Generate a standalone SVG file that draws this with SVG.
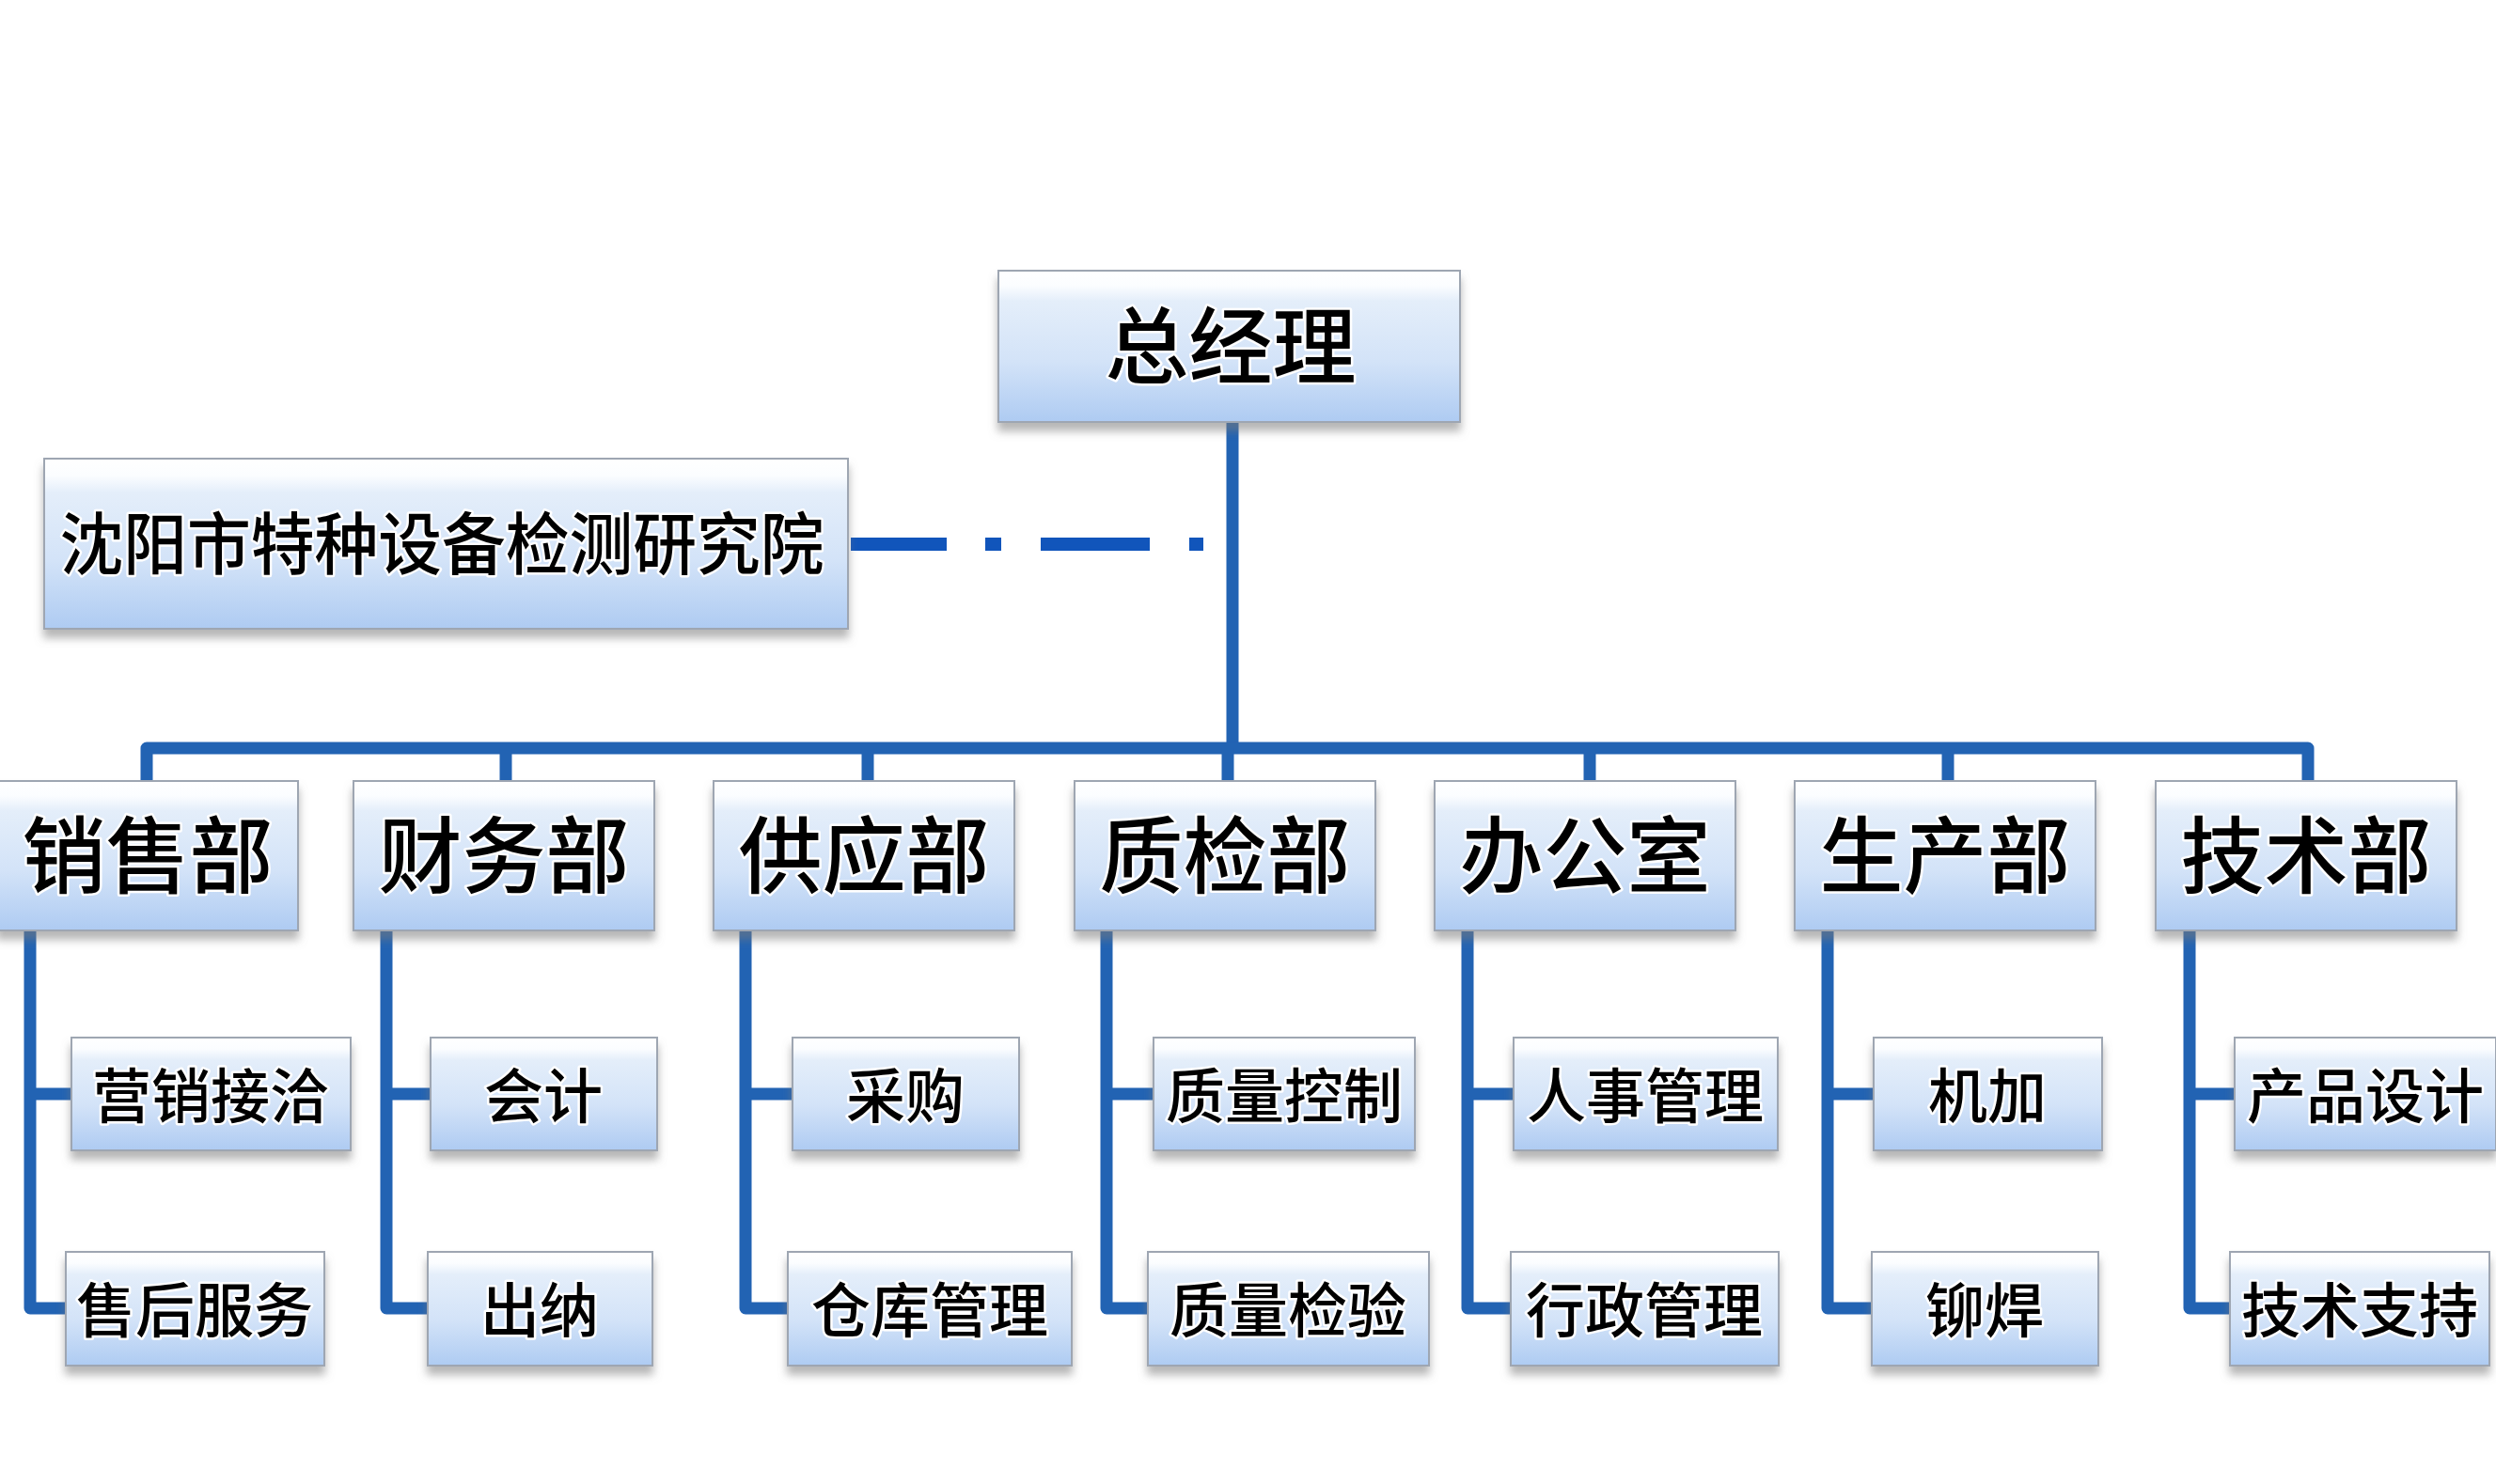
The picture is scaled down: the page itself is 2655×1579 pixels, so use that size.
<svg xmlns="http://www.w3.org/2000/svg" width="2655" height="1579" viewBox="0 0 2655 1579">
<defs>
<linearGradient id="g" x1="0" y1="0" x2="0" y2="1">
<stop offset="0" stop-color="#ffffff"/>
<stop offset="0.1" stop-color="#fbfdff"/>
<stop offset="0.2" stop-color="#e4eefa"/>
<stop offset="0.6" stop-color="#d3e3f8"/>
<stop offset="1" stop-color="#aecbf2"/>
</linearGradient>
<filter id="sh" x="-5%" y="-10%" width="110%" height="135%">
<feDropShadow dx="0" dy="9" stdDeviation="5" flood-color="#7a7a7a" flood-opacity="0.55"/>
</filter>
</defs>
<style>
.box{fill:url(#g);stroke:#9ea6b2;stroke-width:2;filter:url(#sh)}
.t{font-family:"Noto Sans CJK SC","Noto Sans CJK JP",sans-serif;font-weight:500;fill:#000;text-anchor:middle;dominant-baseline:central;stroke:#ffffff;stroke-width:5;stroke-linejoin:round;paint-order:stroke}
.top{font-size:89px}
.inst{font-size:72px}
.dept{font-size:89px}
.sub{font-size:63px}
.ln{fill:none;stroke:#2263b3;stroke-width:13;stroke-linejoin:round;stroke-linecap:butt}
.dash{fill:none;stroke:#1155bb;stroke-width:14}
</style>
<rect width="2655" height="1579" fill="#ffffff"/>
<g id="connectors">
<path class="ln" d="M1311,449 V796"/>
<path class="dash" d="M905,579 H1007 M1048,579 H1065 M1107,579 H1223 M1265,579 H1280"/>
<path class="ln" d="M156,834 V796 H2455 V834"/>
<path class="ln" d="M538,796 V834 M923,796 V834 M1306,796 V834 M1691,796 V834 M2072,796 V834"/>
<path class="ln" d="M32,990 V1392 H70 M32,1164 H76"/>
<path class="ln" d="M411,990 V1392 H455 M411,1164 H458"/>
<path class="ln" d="M793,990 V1392 H838 M793,1164 H843"/>
<path class="ln" d="M1177,990 V1392 H1221 M1177,1164 H1227"/>
<path class="ln" d="M1561,990 V1392 H1607 M1561,1164 H1610"/>
<path class="ln" d="M1944,990 V1392 H1991 M1944,1164 H1993"/>
<path class="ln" d="M2329,990 V1392 H2372 M2329,1164 H2377"/>
</g>
<g id="n-gm"><rect class="box" x="1062" y="288" width="491" height="161"/><text class="t top" x="1309" y="362">总经理</text></g>
<g id="n-inst"><rect class="box" x="47" y="488" width="855" height="181"/><text class="t inst" x="470" y="573" textLength="813" lengthAdjust="spacingAndGlyphs">沈阳市特种设备检测研究院</text></g>
<g id="n-sales"><rect class="box" x="-3" y="831" width="320" height="159"/><text class="t dept" x="157" y="904">销售部</text></g>
<g id="n-fin"><rect class="box" x="376" y="831" width="320" height="159"/><text class="t dept" x="536" y="904">财务部</text></g>
<g id="n-sup"><rect class="box" x="759" y="831" width="320" height="159"/><text class="t dept" x="919" y="904">供应部</text></g>
<g id="n-qc"><rect class="box" x="1143" y="831" width="320" height="159"/><text class="t dept" x="1303" y="904">质检部</text></g>
<g id="n-off"><rect class="box" x="1526" y="831" width="320" height="159"/><text class="t dept" x="1686" y="904">办公室</text></g>
<g id="n-prod"><rect class="box" x="1909" y="831" width="320" height="159"/><text class="t dept" x="2069" y="904">生产部</text></g>
<g id="n-tech"><rect class="box" x="2293" y="831" width="320" height="159"/><text class="t dept" x="2453" y="904">技术部</text></g>
<g id="n-s1"><rect class="box" x="76" y="1104" width="297" height="120"/><text class="t sub" x="224" y="1161">营销接洽</text></g>
<g id="n-s2"><rect class="box" x="70" y="1332" width="275" height="121"/><text class="t sub" x="207" y="1389">售后服务</text></g>
<g id="n-f1"><rect class="box" x="458" y="1104" width="241" height="120"/><text class="t sub" x="578" y="1161">会计</text></g>
<g id="n-f2"><rect class="box" x="455" y="1332" width="239" height="121"/><text class="t sub" x="574" y="1389">出纳</text></g>
<g id="n-p1"><rect class="box" x="843" y="1104" width="241" height="120"/><text class="t sub" x="963" y="1161">采购</text></g>
<g id="n-p2"><rect class="box" x="838" y="1332" width="302" height="121"/><text class="t sub" x="989" y="1389">仓库管理</text></g>
<g id="n-q1"><rect class="box" x="1227" y="1104" width="278" height="120"/><text class="t sub" x="1366" y="1161">质量控制</text></g>
<g id="n-q2"><rect class="box" x="1221" y="1332" width="299" height="121"/><text class="t sub" x="1370" y="1389">质量检验</text></g>
<g id="n-o1"><rect class="box" x="1610" y="1104" width="281" height="120"/><text class="t sub" x="1750" y="1161">人事管理</text></g>
<g id="n-o2"><rect class="box" x="1607" y="1332" width="285" height="121"/><text class="t sub" x="1749" y="1389">行政管理</text></g>
<g id="n-m1"><rect class="box" x="1993" y="1104" width="243" height="120"/><text class="t sub" x="2114" y="1161">机加</text></g>
<g id="n-m2"><rect class="box" x="1991" y="1332" width="241" height="121"/><text class="t sub" x="2111" y="1389">铆焊</text></g>
<g id="n-t1"><rect class="box" x="2377" y="1104" width="278" height="120"/><text class="t sub" x="2516" y="1161">产品设计</text></g>
<g id="n-t2"><rect class="box" x="2372" y="1332" width="276" height="121"/><text class="t sub" x="2510" y="1389">技术支持</text></g>
</svg>
